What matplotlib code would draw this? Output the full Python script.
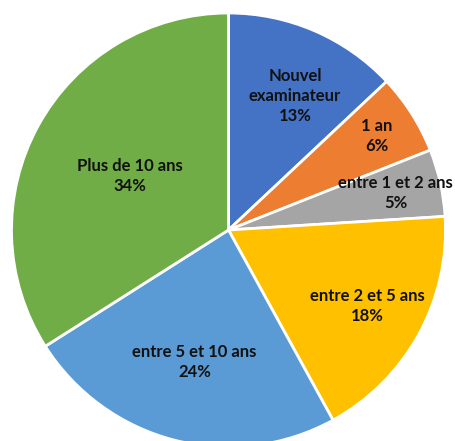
import numpy as np
import matplotlib.pyplot as plt

labels = ["Nouvel\nexaminateur", "1 an", "entre 1 et 2 ans", "entre 2 et 5 ans",
          "entre 5 et 10 ans", "Plus de 10 ans"]
values = [13, 6, 5, 18, 24, 34]
colors = ["#4472C4", "#ED7D31", "#A5A5A5", "#FFC000", "#5B9BD5", "#70AD47"]
label_r = [0.69, 0.81, 0.79, 0.73, 0.63, 0.52]

W, H = 455, 441
fig = plt.figure(figsize=(W / 100, H / 100), dpi=100)
ax = fig.add_axes([0, 0, 1, 1])

cx, cy, R = 228.5, H - 230, 217
wedges, _ = ax.pie(values, colors=colors, startangle=90, counterclock=False,
                   center=(cx, cy), radius=R, frame=True,
                   wedgeprops=dict(edgecolor="white", linewidth=2))
ax.set_xlim(0, W)
ax.set_ylim(0, H)
ax.set_aspect("equal")
ax.axis("off")

# étiquettes au milieu de chaque secteur
for w, lab, v, rf in zip(wedges, labels, values, label_r):
    ang = np.deg2rad((w.theta1 + w.theta2) / 2 - (3 if rf < 0.7 and v == 13 else 0))
    x = cx + rf * R * np.cos(ang)
    y = cy + rf * R * np.sin(ang)
    ax.text(x, y, f"{lab}\n{v}%", ha="center", va="center", fontsize=12,
            fontweight="bold", family="Lato", color="#111111", linespacing=1.3)

fig.savefig("out.png", dpi=100)
